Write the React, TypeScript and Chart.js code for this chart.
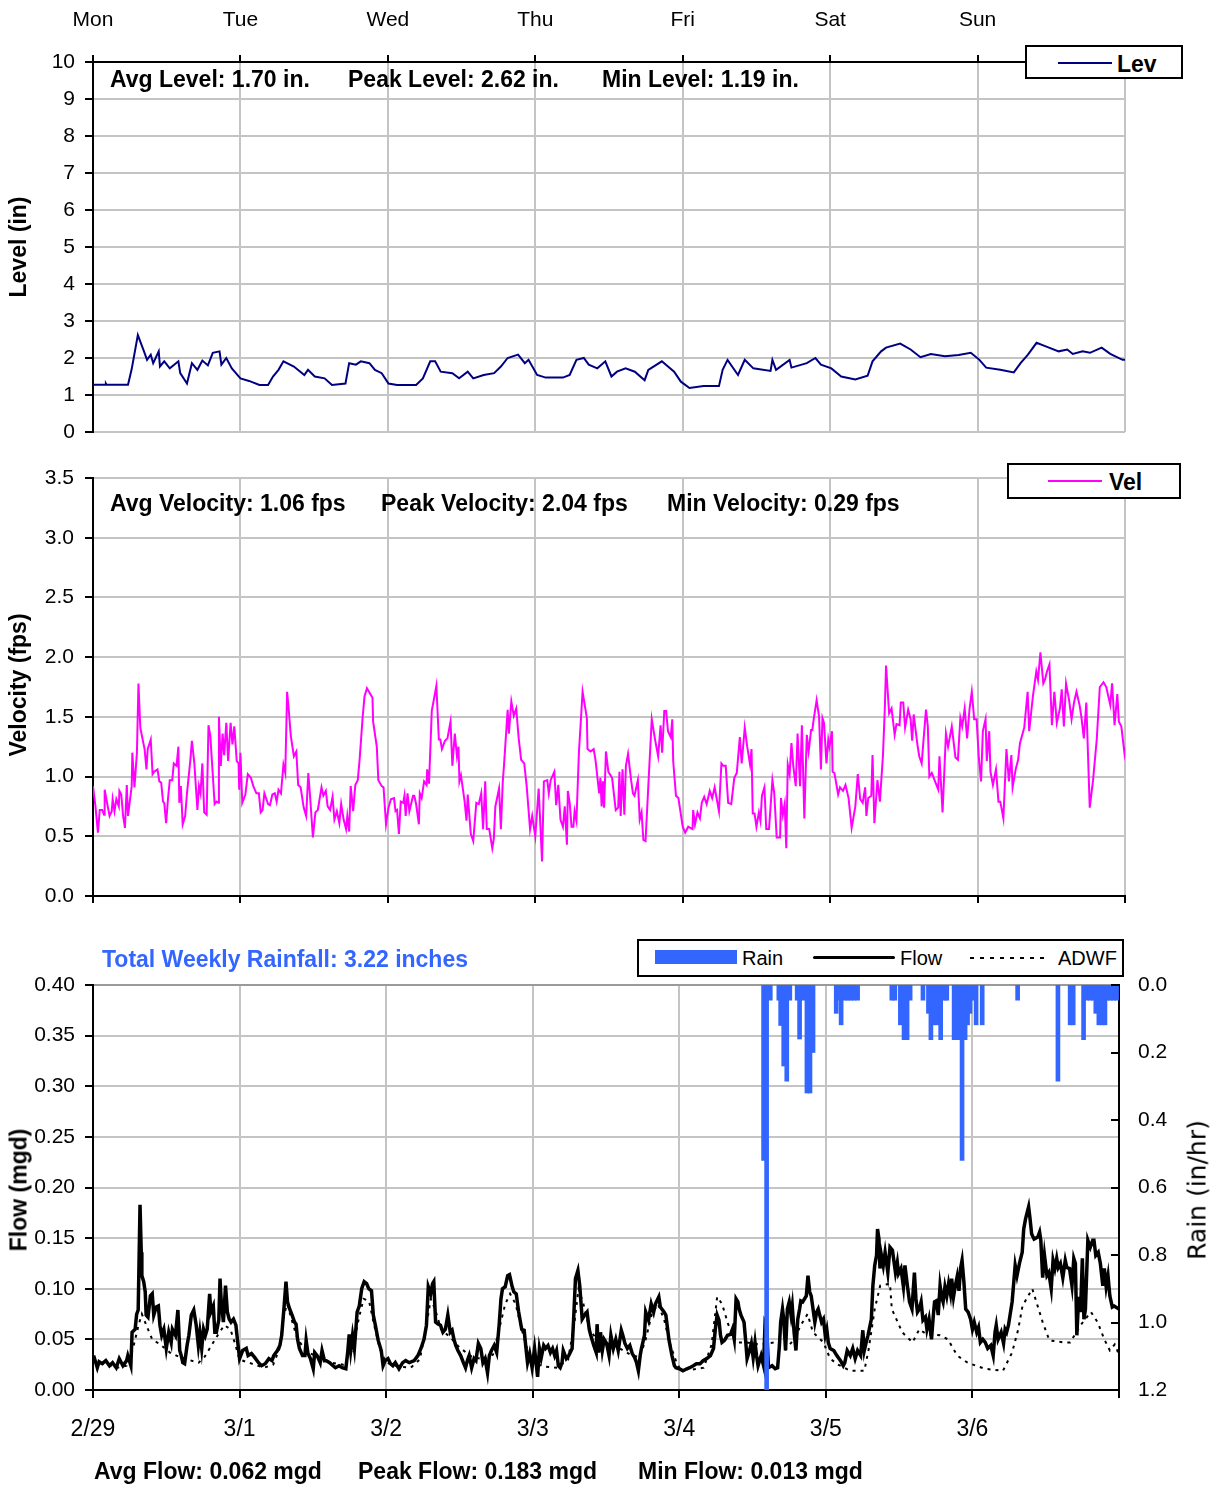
import React, { useEffect, useRef } from 'react';
import { Chart, registerables } from 'chart.js';

Chart.register(...registerables);

// ---------- labels ----------
const DAY_NAMES = ['Mon', 'Tue', 'Wed', 'Thu', 'Fri', 'Sat', 'Sun'];
const DATE_LABELS = ['2/29', '3/1', '3/2', '3/3', '3/4', '3/5', '3/6'];
const DAY_TICK_HOURS = [0, 24, 48, 72, 96, 120, 144, 168];
const LEVEL_TICKS = [0, 1, 2, 3, 4, 5, 6, 7, 8, 9, 10];
const VEL_TICKS = [0, 0.5, 1, 1.5, 2, 2.5, 3, 3.5];
const FLOW_TICKS = [0, 0.05, 0.1, 0.15, 0.2, 0.25, 0.3, 0.35, 0.4];
const RAIN_TICKS = [0, 0.2, 0.4, 0.6, 0.8, 1.0, 1.2];

// ---------- data: [hour of week, value] ----------
const levelPoints: [number, number][] = [
  [0,1.28],[2,1.28],[2.1,1.31],[2.2,1.28],[5.7,1.28],[6.3,1.7],[7.3,2.62],[8.3,2.18],[8.8,1.95],[9.4,2.09],[9.8,1.86],[10.7,2.18],[10.9,1.77],[11.6,1.91],[12.5,1.72],[13.9,1.91],[14.2,1.59],[15.3,1.31],[16.1,1.86],[17.0,1.68],[17.8,1.93],[18.7,1.8],[19.5,2.14],[20.6,2.18],[20.9,1.82],[21.7,2.0],[22.6,1.72],
  [24.0,1.45],[25.4,1.38],[27.1,1.27],[28.5,1.27],[29.3,1.5],[30.2,1.68],[31.0,1.91],[32.7,1.77],[34.4,1.54],[35.0,1.68],[36.1,1.5],[37.7,1.45],[38.9,1.27],[41.1,1.31],[41.7,1.86],[42.8,1.82],[43.6,1.91],[45.0,1.86],[45.9,1.68],[47.0,1.59],
  [48.1,1.31],[49.5,1.27],[52.6,1.27],[53.7,1.45],[54.9,1.91],[55.7,1.91],[56.6,1.63],[58.5,1.59],[59.6,1.45],[61.0,1.63],[61.9,1.45],[63.6,1.54],[65.3,1.59],[66.4,1.77],[67.5,2.0],[69.2,2.09],[70.3,1.86],[70.9,1.95],
  [72.3,1.54],[73.7,1.47],[76.5,1.47],[77.6,1.54],[78.7,1.95],[79.9,2.0],[80.7,1.82],[82.1,1.72],[83.4,1.91],[84.4,1.5],[85.3,1.63],[86.7,1.72],[88.2,1.63],[89.8,1.4],[90.4,1.68],[92.6,1.91],[94.6,1.63],[95.7,1.36],
  [97.1,1.19],[99.4,1.24],[101.9,1.24],[102.5,1.68],[103.3,1.95],[105.0,1.54],[106.1,1.95],[107.5,1.72],[110.3,1.65],[110.6,1.95],[111.2,1.68],[113.4,1.95],[113.7,1.74],[116.2,1.86],[117.6,2.0],[118.5,1.82],
  [120.2,1.72],[121.8,1.5],[124.1,1.42],[126.1,1.52],[126.9,1.91],[128.3,2.18],[129.1,2.28],[131.4,2.39],[133.1,2.23],[134.7,2.02],[136.4,2.11],[138.7,2.05],[140.9,2.08],[142.9,2.14],
  [144.3,1.95],[145.4,1.74],[147.7,1.68],[149.9,1.61],[151.0,1.86],[152.2,2.09],[153.6,2.41],[155.0,2.32],[157.2,2.18],[158.6,2.23],[159.5,2.11],[161.1,2.18],[162.3,2.14],[164.2,2.28],[165.6,2.11],[167.6,1.95],[168,1.95],
];

const velocityPoints: [number, number][] = [
  [0,0.92],[0.4,0.75],[0.8,0.53],[1.1,0.72],[1.5,0.72],[1.8,0.68],[1.9,0.89],[2.4,0.75],[2.7,0.67],[3.05,0.71],[3.2,0.81],[3.5,0.71],[3.8,0.81],[4.2,0.75],[4.3,0.88],[4.6,0.85],[4.9,0.67],[5.2,0.57],[5.5,0.93],[5.7,0.67],
  [6.3,0.92],[6.4,1.2],[6.75,0.91],[7.15,1.2],[7.4,1.78],[7.7,1.41],[8.2,1.28],[8.4,1.23],[8.7,1.06],[8.9,1.23],[9.4,1.31],[9.7,1.02],[9.95,1.04],[10.5,1.06],[10.8,0.96],[11.1,0.95],[11.4,0.79],[11.6,0.78],[11.9,0.61],
  [12.2,0.81],[12.5,0.97],[12.9,0.97],[13.15,1.11],[13.6,1.09],[13.9,1.25],[14.05,0.78],[14.3,0.92],[14.6,0.6],[15.0,0.67],[15.3,0.86],[15.85,1.14],[16.1,1.3],[16.5,1.11],[17.0,0.72],[17.25,0.92],[17.5,0.86],[17.8,1.11],
  [18.1,0.7],[18.5,0.68],[18.8,1.43],[19.1,1.34],[19.8,0.77],[20.1,0.79],[20.45,0.78],[20.5,1.5],[20.8,1.09],[21.1,1.36],[21.35,1.18],[21.7,1.45],[22.0,1.13],[22.4,1.45],[22.7,1.27],[23.0,1.42],[23.4,1.13],[23.7,1.11],[23.8,0.89],[24.0,1.2],
  [24.3,0.78],[24.8,0.85],[25.2,1.02],[25.7,0.99],[26.1,0.92],[26.6,0.86],[27.0,0.86],[27.3,0.7],[27.6,0.72],[27.9,0.86],[28.5,0.77],[28.8,0.76],[29.2,0.85],[29.6,0.86],[29.9,0.79],[30.2,0.89],[30.6,0.86],[31.0,1.1],[31.3,1.03],
  [31.6,1.71],[31.85,1.57],[32.2,1.34],[32.7,1.17],[33.1,1.21],[33.4,0.93],[33.8,0.91],[34.3,0.74],[34.7,0.67],[35.05,1.03],[35.3,0.86],[35.8,0.49],[36.2,0.7],[36.6,0.72],[37.2,0.91],[37.5,0.84],[37.9,0.88],[38.2,0.75],[38.6,0.72],
  [39.0,0.83],[39.3,0.64],[39.7,0.71],[40.1,0.61],[40.4,0.77],[40.8,0.64],[41.2,0.56],[41.4,0.67],[41.7,0.54],[41.95,0.92],[42.35,0.71],[42.7,0.93],[43.1,0.97],[43.4,1.14],[43.9,1.5],[44.2,1.67],[44.6,1.74],[45.5,1.66],[45.6,1.46],
  [46.2,1.25],[46.45,0.97],[47.0,0.92],[47.3,0.91],[47.7,0.6],[48.1,0.74],[48.5,0.81],[49.0,0.82],[49.25,0.71],[49.5,0.72],[49.8,0.52],[50.1,0.79],[50.5,0.78],[50.7,0.84],[50.9,0.67],[51.2,0.86],[51.5,0.71],[52.1,0.84],[52.3,0.84],
  [52.6,0.77],[53.05,0.6],[53.2,0.86],[53.5,0.82],[53.9,0.96],[54.3,0.93],[54.4,1.06],[54.7,0.94],[55.15,1.55],[55.4,1.62],[55.9,1.76],[56.3,1.31],[56.55,1.31],[56.8,1.23],[57.3,1.3],[57.7,1.32],[58.2,1.46],[58.5,1.09],[58.9,1.36],
  [59.25,1.17],[59.5,1.25],[59.65,0.96],[59.9,1.01],[60.5,0.79],[60.8,0.63],[61.0,0.85],[61.5,0.52],[61.9,0.46],[62.4,0.78],[62.8,0.77],[63.2,0.86],[63.5,0.56],[63.85,0.96],[64.1,0.56],[64.5,0.56],[65.0,0.4],[65.25,0.48],[65.5,0.75],
  [66.1,0.9],[66.4,0.56],[66.7,0.95],[66.9,1.09],[67.5,1.56],[67.7,1.36],[68.1,1.63],[68.5,1.51],[68.9,1.57],[69.3,1.32],[69.7,1.14],[70.2,1.11],[70.6,0.92],[71.15,0.56],[71.5,0.67],[72.0,0.5],[72.55,0.9],[73.1,0.29],[73.4,0.96],
  [73.95,0.97],[74.2,0.86],[74.5,0.97],[75.1,1.04],[75.4,0.76],[75.75,0.93],[76.1,0.64],[76.5,0.58],[76.8,0.75],[77.15,0.43],[77.3,0.88],[77.6,0.78],[77.9,0.58],[78.2,0.58],[78.4,0.71],[78.7,0.63],[79.1,1.2],[79.7,1.71],[80.4,1.49],
  [80.5,1.23],[81.0,1.21],[81.5,1.23],[81.8,1.14],[82.4,0.86],[82.6,0.99],[82.8,0.75],[83.0,0.96],[83.2,0.74],[83.5,1.21],[83.9,1.04],[84.5,0.99],[85.1,0.72],[85.5,0.74],[85.7,1.04],[85.9,0.67],[86.2,1.06],[86.5,0.68],[86.75,1.09],
  [87.1,1.19],[87.6,0.97],[87.9,0.86],[88.15,0.84],[88.7,0.97],[89.0,0.64],[89.3,0.7],[89.6,0.47],[89.95,0.46],[90.4,0.92],[90.96,1.48],[91.5,1.31],[92.0,1.17],[92.4,1.43],[92.65,1.2],[93.0,1.55],[93.3,1.55],[93.6,1.38],[94.05,1.33],
  [94.3,1.48],[94.45,1.13],[94.9,0.84],[95.3,0.82],[96.0,0.58],[96.4,0.53],[96.9,0.58],[97.6,0.56],[97.7,0.72],[98.0,0.6],[98.4,0.7],[98.8,0.65],[99.1,0.78],[99.5,0.83],[99.9,0.77],[100.4,0.88],[100.8,0.82],[101.2,0.91],[101.9,0.71],
  [102.3,1.11],[102.6,1.09],[103.0,1.09],[103.4,0.78],[103.9,0.77],[104.4,0.99],[104.8,1.03],[105.3,1.33],[105.6,1.11],[106.1,1.41],[106.5,1.25],[106.96,1.1],[107.2,1.23],[107.4,0.69],[107.7,0.69],[108.0,0.58],[108.4,0.7],[108.65,0.63],
  [108.9,0.84],[109.3,0.91],[109.6,0.56],[110.05,0.56],[110.6,0.97],[110.9,0.86],[111.3,0.49],[111.85,0.49],[112.0,0.82],[112.3,0.68],[112.6,0.77],[112.86,0.4],[113.1,1.1],[113.4,1.02],[113.7,1.28],[114.0,1.09],[114.4,0.92],[114.7,1.36],
  [115.1,0.92],[115.4,1.43],[115.8,0.65],[116.2,1.35],[116.5,1.21],[116.9,1.39],[117.1,1.39],[117.35,1.49],[117.8,1.64],[118.2,1.5],[118.5,1.06],[118.75,1.49],[119.0,1.45],[119.4,1.11],[119.7,1.31],[119.9,1.25],[120.3,1.38],[120.4,1.04],
  [120.7,1.03],[121.3,0.85],[121.6,0.91],[122.1,0.88],[122.5,0.93],[123.0,0.82],[123.5,0.57],[124.1,0.75],[124.5,1.02],[124.9,0.81],[125.3,0.78],[125.7,0.91],[125.9,0.67],[126.2,0.82],[126.7,0.84],[126.9,1.18],[127.2,0.61],[127.7,0.97],
  [128.1,0.79],[128.6,1.18],[128.9,1.57],[129.1,1.93],[129.6,1.53],[130.0,1.57],[130.5,1.35],[130.8,1.44],[131.3,1.43],[131.5,1.62],[131.9,1.62],[132.2,1.41],[132.7,1.56],[133.1,1.48],[133.35,1.3],[133.6,1.52],[134.2,1.27],[134.5,1.17],
  [134.9,1.11],[135.6,1.56],[135.9,1.42],[136.15,1.0],[136.55,1.03],[137.0,0.97],[137.6,0.89],[137.8,1.17],[138.3,0.7],[138.85,1.36],[139.2,1.25],[139.8,1.42],[140.4,1.16],[140.8,1.14],[141.2,1.49],[141.5,1.42],[141.9,1.57],[142.3,1.32],
  [142.7,1.57],[143.06,1.71],[143.45,1.48],[143.84,1.48],[144.2,1.16],[144.57,0.96],[144.86,1.38],[145.3,1.48],[145.5,1.13],[145.9,1.38],[146.1,1.04],[146.5,0.93],[147.0,1.06],[147.4,0.79],[147.7,0.79],[148.2,0.65],[148.7,1.23],[149.1,0.96],
  [149.5,1.18],[149.7,0.91],[150.2,1.06],[150.6,1.14],[150.9,1.28],[151.6,1.41],[152.15,1.71],[152.4,1.38],[153.0,1.67],[153.56,1.88],[153.84,1.81],[154.23,2.04],[154.7,1.78],[154.96,1.81],[155.3,1.88],[155.7,1.94],[156.1,1.43],[156.5,1.71],
  [156.9,1.45],[157.4,1.57],[157.7,1.73],[158.05,1.42],[158.4,1.78],[158.9,1.64],[159.3,1.48],[159.7,1.62],[160.1,1.71],[160.6,1.6],[160.9,1.5],[161.3,1.32],[161.7,1.62],[162.26,0.74],[162.8,0.97],[163.4,1.31],[163.9,1.75],[164.5,1.79],
  [164.95,1.75],[165.6,1.6],[165.9,1.78],[166.3,1.43],[166.75,1.69],[167.0,1.46],[167.4,1.42],[167.9,1.2],[168,1.25],
];

const flowPoints: [number, number][] = [
  [0.1,0.034],[0.7,0.022],[1.0,0.028],[1.5,0.026],[2.1,0.029],[2.7,0.024],[3.2,0.027],[3.8,0.022],[4.3,0.031],[4.9,0.024],[5.5,0.029],[5.7,0.034],[6.2,0.024],[6.4,0.057],[6.9,0.06],[7.15,0.075],[7.4,0.079],[7.7,0.183],[7.9,0.136],
  [8.0,0.113],[8.3,0.107],[8.55,0.097],[8.7,0.074],[9.0,0.072],[9.4,0.093],[9.7,0.095],[9.95,0.074],[10.35,0.082],[10.7,0.083],[10.96,0.064],[11.25,0.054],[11.6,0.06],[12.0,0.041],[12.4,0.057],[12.8,0.047],[13.0,0.06],[13.5,0.054],
  [13.9,0.079],[14.2,0.039],[14.45,0.034],[14.7,0.027],[15.0,0.026],[15.4,0.044],[15.7,0.054],[16.1,0.074],[16.5,0.079],[16.9,0.064],[17.25,0.044],[17.5,0.057],[17.8,0.041],[18.1,0.06],[18.4,0.054],[18.7,0.06],[19.1,0.095],[19.3,0.077],
  [19.7,0.083],[19.95,0.057],[20.2,0.057],[20.6,0.069],[20.8,0.11],[21.0,0.087],[21.35,0.067],[21.7,0.103],[22.0,0.077],[22.3,0.07],[22.6,0.067],[23.0,0.07],[23.4,0.064],[23.7,0.047],[24.0,0.031],[24.5,0.039],[25.1,0.041],[25.4,0.034],
  [25.95,0.036],[26.5,0.032],[27.1,0.027],[27.6,0.024],[28.2,0.026],[28.8,0.031],[29.3,0.029],[29.6,0.034],[30.2,0.039],[30.6,0.044],[30.9,0.054],[31.3,0.083],[31.6,0.107],[31.85,0.087],[32.2,0.08],[32.6,0.074],[33.0,0.067],[33.25,0.065],
  [33.5,0.05],[33.8,0.041],[34.3,0.034],[34.7,0.034],[34.9,0.049],[35.2,0.036],[35.6,0.031],[36.06,0.021],[36.3,0.037],[36.7,0.034],[37.2,0.027],[37.5,0.039],[37.9,0.029],[38.2,0.029],[38.75,0.027],[39.3,0.024],[39.7,0.022],[40.3,0.024],
  [40.8,0.022],[41.4,0.021],[41.7,0.037],[41.95,0.055],[42.2,0.039],[42.5,0.054],[42.8,0.041],[43.25,0.077],[43.6,0.083],[44.0,0.1],[44.4,0.107],[44.8,0.105],[45.15,0.1],[45.6,0.098],[45.9,0.074],[46.3,0.062],[46.7,0.049],[47.2,0.039],
  [47.5,0.024],[47.85,0.029],[48.3,0.031],[48.7,0.026],[49.1,0.024],[49.5,0.027],[50.1,0.021],[50.7,0.027],[51.2,0.029],[51.8,0.027],[52.6,0.029],[53.2,0.034],[53.7,0.041],[54.2,0.05],[54.6,0.064],[54.9,0.102],[55.3,0.095],[55.6,0.105],
  [55.8,0.107],[56.1,0.067],[56.55,0.065],[56.9,0.064],[57.3,0.057],[57.7,0.06],[58.1,0.074],[58.5,0.057],[58.8,0.059],[59.1,0.05],[59.4,0.044],[59.75,0.039],[60.2,0.034],[60.65,0.027],[61.0,0.022],[61.3,0.029],[61.6,0.034],[62.0,0.022],
  [62.4,0.031],[62.7,0.029],[63.1,0.046],[63.5,0.041],[63.85,0.027],[64.2,0.031],[64.6,0.017],[64.9,0.034],[65.25,0.039],[65.7,0.044],[66.1,0.037],[66.5,0.064],[66.8,0.09],[67.05,0.1],[67.5,0.102],[67.9,0.113],[68.2,0.114],[68.6,0.103],
  [68.9,0.097],[69.3,0.095],[69.7,0.077],[70.2,0.06],[70.6,0.059],[70.9,0.041],[71.15,0.027],[71.5,0.036],[71.9,0.022],[72.3,0.041],[72.55,0.027],[72.8,0.013],[73.1,0.041],[73.4,0.032],[73.8,0.044],[74.1,0.041],[74.5,0.044],[74.9,0.037],
  [75.25,0.041],[75.6,0.034],[75.9,0.039],[76.2,0.024],[76.5,0.022],[76.8,0.027],[77.0,0.039],[77.5,0.031],[77.9,0.034],[78.45,0.041],[78.7,0.07],[79.0,0.11],[79.4,0.118],[79.7,0.103],[80.1,0.07],[80.5,0.074],[80.9,0.077],[81.25,0.06],
  [81.5,0.054],[82.0,0.044],[82.4,0.037],[82.54,0.065],[82.8,0.037],[83.1,0.057],[83.4,0.039],[83.7,0.05],[84.1,0.046],[84.5,0.034],[84.8,0.054],[85.2,0.041],[85.6,0.05],[86.0,0.039],[86.5,0.059],[86.75,0.054],[87.1,0.046],[87.5,0.041],
  [87.9,0.044],[88.3,0.036],[88.7,0.032],[89.0,0.027],[89.3,0.019],[89.6,0.034],[89.8,0.041],[90.3,0.054],[90.5,0.077],[90.96,0.069],[91.4,0.085],[91.8,0.077],[92.1,0.085],[92.65,0.092],[92.9,0.082],[93.5,0.077],[93.8,0.074],[94.3,0.05],
  [94.8,0.034],[95.2,0.024],[95.45,0.022],[96.0,0.021],[96.6,0.019],[97.25,0.021],[97.7,0.022],[98.3,0.024],[98.8,0.026],[99.4,0.026],[99.9,0.029],[100.5,0.031],[101.1,0.034],[101.6,0.041],[101.9,0.06],[102.2,0.074],[102.5,0.069],
  [102.75,0.054],[103.0,0.047],[103.4,0.049],[103.9,0.054],[104.4,0.055],[104.7,0.06],[105.0,0.05],[105.3,0.09],[105.6,0.087],[105.8,0.08],[106.1,0.074],[106.6,0.067],[106.85,0.05],[107.1,0.031],[107.5,0.039],[107.8,0.046],[108.1,0.032],
  [108.4,0.047],[108.65,0.034],[108.9,0.024],[109.4,0.034],[109.8,0.024],[110.05,0.067],[110.3,0.064],[110.6,0.022],[111.2,0.024],[111.7,0.021],[112.1,0.022],[112.4,0.044],[112.6,0.067],[112.9,0.08],[113.1,0.07],[113.4,0.039],[113.7,0.08],
  [114.0,0.087],[114.3,0.074],[114.5,0.083],[114.8,0.057],[115.1,0.039],[115.4,0.07],[115.7,0.08],[115.9,0.088],[116.2,0.087],[116.8,0.093],[117.07,0.113],[117.35,0.097],[117.6,0.093],[117.9,0.08],[118.2,0.067],[118.5,0.077],[118.75,0.08],
  [119.0,0.074],[119.3,0.067],[119.6,0.07],[119.9,0.054],[120.15,0.06],[120.4,0.047],[120.7,0.041],[121.3,0.039],[121.8,0.034],[122.4,0.029],[122.85,0.024],[123.1,0.027],[123.5,0.039],[124.0,0.034],[124.4,0.041],[124.8,0.031],[125.2,0.039],
  [125.7,0.034],[126.05,0.059],[126.3,0.039],[126.6,0.047],[126.9,0.054],[127.45,0.07],[127.7,0.103],[128.0,0.123],[128.3,0.133],[128.46,0.159],[128.7,0.149],[128.86,0.12],[129.1,0.133],[129.4,0.123],[129.7,0.136],[130.15,0.116],[130.5,0.141],
  [130.9,0.138],[131.4,0.116],[131.7,0.126],[131.9,0.115],[132.3,0.12],[132.7,0.102],[132.95,0.123],[133.35,0.103],[133.7,0.087],[134.1,0.08],[134.5,0.116],[134.75,0.09],[135.0,0.077],[135.3,0.08],[135.6,0.087],[135.9,0.069],[136.3,0.072],
  [136.55,0.06],[136.9,0.07],[137.3,0.05],[137.6,0.074],[137.8,0.087],[138.1,0.088],[138.4,0.074],[138.7,0.103],[138.96,0.092],[139.2,0.087],[139.5,0.102],[139.8,0.093],[140.1,0.105],[140.4,0.095],[140.6,0.11],[140.9,0.092],[141.2,0.103],
  [141.5,0.112],[141.8,0.098],[142.05,0.12],[142.3,0.128],[142.6,0.107],[142.9,0.08],[143.3,0.077],[143.7,0.07],[144.0,0.06],[144.3,0.067],[144.7,0.057],[145.0,0.062],[145.3,0.047],[145.7,0.05],[146.1,0.047],[146.5,0.041],[147.0,0.044],
  [147.4,0.034],[147.7,0.057],[147.9,0.064],[148.2,0.05],[148.7,0.057],[149.1,0.046],[149.35,0.06],[149.6,0.057],[149.9,0.064],[150.5,0.087],[151.0,0.123],[151.3,0.113],[151.7,0.125],[152.15,0.136],[152.4,0.159],[152.7,0.169],[153.2,0.181],
  [153.4,0.171],[153.7,0.154],[154.1,0.149],[154.7,0.151],[155.0,0.156],[155.2,0.148],[155.5,0.111],[155.8,0.133],[156.2,0.113],[156.5,0.116],[156.9,0.1],[157.2,0.128],[157.5,0.12],[157.8,0.13],[158.05,0.121],[158.4,0.125],[158.8,0.111],
  [159.2,0.128],[159.45,0.121],[159.9,0.12],[160.3,0.103],[160.6,0.13],[160.86,0.125],[161.1,0.054],[161.4,0.092],[161.7,0.077],[162.0,0.13],[162.26,0.07],[162.5,0.08],[162.9,0.148],[163.3,0.141],[163.7,0.148],[163.9,0.148],[164.2,0.133],
  [164.6,0.136],[164.95,0.125],[165.35,0.103],[165.6,0.12],[165.9,0.102],[166.2,0.113],[166.5,0.093],[166.9,0.082],[167.2,0.083],[168,0.08],
];

const adwfPoints: [number, number][] = [
  [0,0.028],[2,0.025],[4,0.022],[5.5,0.024],[6.5,0.04],[7.5,0.065],[8,0.075],[9,0.06],[9.7,0.05],[11,0.045],[12.6,0.037],[14,0.033],[15.5,0.03],[17.3,0.027],[18.3,0.033],[19.5,0.045],[20.5,0.055],[21.5,0.064],[22.5,0.06],[23.3,0.045],
  [24,0.03],[26,0.026],[28,0.022],[29.5,0.025],[30.5,0.04],[31.3,0.075],[31.8,0.085],[32.5,0.07],[33.5,0.05],[35,0.038],[37,0.032],[39,0.027],[41,0.025],[42.5,0.04],[43.5,0.07],[44.3,0.09],[45.2,0.088],[46,0.065],[47,0.04],
  [48,0.027],[50,0.023],[52,0.022],[53.5,0.03],[54.5,0.06],[55.3,0.09],[56,0.08],[57,0.06],[58.5,0.052],[60,0.042],[62,0.033],[64,0.03],[65.5,0.035],[66.5,0.06],[67.5,0.085],[68.3,0.095],[69.2,0.085],[70.2,0.06],[71.2,0.038],
  [72,0.027],[74,0.023],[76,0.022],[77.8,0.03],[78.8,0.065],[79.5,0.1],[80.3,0.085],[81.3,0.06],[82.5,0.05],[84,0.045],[86,0.042],[88,0.035],[89.5,0.032],[90.5,0.05],[91.5,0.075],[92.5,0.085],[93.5,0.07],[94.5,0.045],[95.5,0.028],
  [96,0.022],[98,0.02],[100,0.022],[101.3,0.045],[102.2,0.092],[103,0.085],[104,0.065],[105.3,0.047],[107,0.047],[109,0.045],[111.7,0.047],[113.4,0.04],[114.8,0.05],[115.9,0.064],[117,0.075],[117.9,0.057],[119.6,0.047],
  [120.7,0.031],[122,0.025],[124,0.019],[126.3,0.019],[127,0.04],[128,0.08],[128.9,0.103],[130.5,0.105],[130.8,0.08],[132.5,0.057],[134.2,0.047],[135.3,0.06],[136.5,0.055],[138.7,0.054],[140,0.05],[141.5,0.034],[143.2,0.027],
  [146,0.021],[149,0.019],[150.5,0.037],[151.5,0.06],[152.2,0.083],[153.8,0.1],[155.5,0.067],[156.6,0.049],[158.9,0.047],[160,0.047],[161.7,0.064],[163.4,0.077],[164.5,0.067],[165.6,0.05],[166.5,0.039],[167.3,0.045],[168,0.035],
];

const rainPoints: [number, number][] = [
  [109.8,0.52],[110.3,1.2],[110.9,0.045],[112.3,0.045],[112.6,0.12],[113.1,0.24],[113.6,0.285],[114.1,0.045],[115.3,0.045],[115.7,0.16],[116.2,0.045],[116.9,0.32],[117.4,0.32],[117.9,0.2],
  [121.7,0.084],[122.2,0.045],[122.5,0.118],[123.1,0.045],[123.6,0.045],[124.1,0.045],[124.6,0.045],[125.2,0.045],
  [130.8,0.045],[131.3,0.045],[132.2,0.118],[132.8,0.162],[133.3,0.162],[133.8,0.045],[135.9,0.045],[136.8,0.084],[137.2,0.162],[137.7,0.118],[138.2,0.118],[138.8,0.162],[139.4,0.045],[139.8,0.045],
  [141.0,0.162],[141.6,0.162],[142.3,0.52],[142.8,0.162],[143.2,0.118],[143.6,0.084],[144.2,0.045],[144.6,0.118],[145.6,0.118],[151.4,0.045],[158.0,0.285],[160.0,0.118],[160.5,0.118],
  [162.2,0.162],[162.7,0.045],[163.3,0.045],[163.8,0.045],[164.2,0.084],[164.7,0.118],[165.2,0.118],[165.7,0.118],[166.1,0.045],[166.6,0.045],[167.1,0.045],[167.6,0.045],
];

// ---------- styles ----------
const GRID = '#c4c4c4';
const BLUE = '#3366ff';
const SANS = "'Liberation Sans', Arial, Helvetica, sans-serif";
const TICK_FONT = { family: SANS, size: 21 };

const toXY = (pts: [number, number][]) => pts.map(([x, y]) => ({ x, y }));

type Mark = { scale: string; side: 'left' | 'rightIn' | 'top' | 'bottom'; len: number; values: number[] };
function tickMarkPlugin(marks: Mark[]) {
  return {
    id: 'tickMarks',
    afterDraw(chart: any) {
      const { ctx, chartArea: a } = chart;
      ctx.save();
      ctx.strokeStyle = '#000';
      ctx.lineWidth = 2;
      for (const m of marks) {
        const s = chart.scales[m.scale];
        for (const v of m.values) {
          const p = Math.round(s.getPixelForValue(v));
          ctx.beginPath();
          if (m.side === 'left') { ctx.moveTo(a.left - m.len, p); ctx.lineTo(a.left, p); }
          if (m.side === 'rightIn') { ctx.moveTo(a.right - m.len, p); ctx.lineTo(a.right, p); }
          if (m.side === 'top') { ctx.moveTo(p, a.top - m.len); ctx.lineTo(p, a.top); }
          if (m.side === 'bottom') { ctx.moveTo(p, a.bottom); ctx.lineTo(p, a.bottom + m.len); }
          ctx.stroke();
        }
      }
      ctx.restore();
    },
  };
}

const gridColor = (hidden: number[], special?: { value: number; color: string }) => (ctx: any) => {
  const v = ctx.tick ? ctx.tick.value : null;
  if (v !== null && hidden.some((h) => Math.abs(h - v) < 1e-9)) return 'rgba(0,0,0,0)';
  if (special && v !== null && Math.abs(special.value - v) < 1e-9) return special.color;
  return GRID;
};

// fixed-width vertical axis that does not push the plot area with label overhang
const fixVertical = (w: number) => (s: any) => { s.width = w; s.paddingTop = 0; s.paddingBottom = 0; };

const baseOpts = {
  responsive: false,
  maintainAspectRatio: false,
  animation: false as const,
  devicePixelRatio: 1,
  events: [] as any[],
};

function levelConfig(): any {
  return {
    type: 'line',
    data: {
      datasets: [{ label: 'Lev', data: toXY(levelPoints), borderColor: '#000080', borderWidth: 2, pointRadius: 0, tension: 0 }],
    },
    options: {
      ...baseOpts,
      layout: { padding: { left: 0, top: 0, right: 88, bottom: 13 } },
      plugins: { legend: { display: false }, tooltip: { enabled: false } },
      scales: {
        x: {
          type: 'linear', position: 'top', min: 0, max: 168,
          ticks: { stepSize: 24, autoSkip: false, maxRotation: 0, font: TICK_FONT, color: '#000', padding: 29,
            callback: (v: number) => DAY_NAMES[Math.round(v / 24)] ?? '' },
          grid: { color: gridColor([0]), lineWidth: 2, drawTicks: false },
          border: { color: '#000', width: 2 },
          afterFit: (s: any) => { s.height = 62; },
        },
        y: {
          min: 0, max: 10,
          ticks: { stepSize: 1, font: TICK_FONT, color: '#000', padding: 18 },
          grid: { color: gridColor([10]), lineWidth: 2, drawTicks: false },
          border: { color: '#000', width: 2 },
          afterFit: fixVertical(93),
        },
      },
    },
    plugins: [tickMarkPlugin([
      { scale: 'y', side: 'left', len: 8, values: LEVEL_TICKS },
      { scale: 'x', side: 'top', len: 7, values: DAY_TICK_HOURS },
    ])],
  };
}

function velocityConfig(): any {
  return {
    type: 'line',
    data: {
      datasets: [{ label: 'Vel', data: toXY(velocityPoints), borderColor: '#ff00ff', borderWidth: 2, pointRadius: 0, tension: 0 }],
    },
    options: {
      ...baseOpts,
      layout: { padding: { left: 0, top: 33, right: 88, bottom: 14 } },
      plugins: { legend: { display: false }, tooltip: { enabled: false } },
      scales: {
        x: {
          type: 'linear', position: 'bottom', min: 0, max: 168,
          ticks: { stepSize: 24, display: false },
          grid: { color: gridColor([0]), lineWidth: 2, drawTicks: false },
          border: { color: '#000', width: 2 },
          afterFit: (s: any) => { s.height = 0; },
        },
        y: {
          min: 0, max: 3.5,
          ticks: { stepSize: 0.5, font: TICK_FONT, color: '#000', padding: 19, callback: (v: number) => Number(v).toFixed(1) },
          grid: { color: gridColor([0]), lineWidth: 2, drawTicks: false },
          border: { color: '#000', width: 2 },
          afterFit: fixVertical(93),
        },
      },
    },
    plugins: [tickMarkPlugin([
      { scale: 'y', side: 'left', len: 8, values: VEL_TICKS },
      { scale: 'x', side: 'bottom', len: 7, values: DAY_TICK_HOURS },
    ])],
  };
}

function flowConfig(): any {
  return {
    type: 'line',
    data: {
      datasets: [
        { type: 'bar', label: 'Rain', data: toXY(rainPoints), yAxisID: 'y1', backgroundColor: BLUE, borderWidth: 0, barThickness: 4, order: 0 },
        { type: 'line', label: 'Flow', data: toXY(flowPoints), yAxisID: 'y', borderColor: '#000', borderWidth: 3.5, pointRadius: 0, tension: 0, order: 1 },
        { type: 'line', label: 'ADWF', data: toXY(adwfPoints), yAxisID: 'y', borderColor: '#000', borderWidth: 2, borderDash: [3, 5], pointRadius: 0, tension: 0, order: 2 },
      ],
    },
    options: {
      ...baseOpts,
      layout: { padding: { left: 0, top: 75, right: 0, bottom: 0 } },
      plugins: { legend: { display: false }, tooltip: { enabled: false } },
      scales: {
        x: {
          type: 'linear', position: 'bottom', min: 0, max: 168, offset: false,
          ticks: { stepSize: 24, autoSkip: false, maxRotation: 0, font: { family: SANS, size: 23 }, color: '#000', padding: 26,
            callback: (v: number) => DATE_LABELS[Math.round(v / 24)] ?? '' },
          grid: { color: gridColor([0, 168]), lineWidth: 2, drawTicks: false, offset: false },
          border: { color: '#000', width: 2 },
          afterFit: (s: any) => { s.height = 96; },
        },
        y: {
          position: 'left', min: 0, max: 0.4,
          ticks: { stepSize: 0.05, font: TICK_FONT, color: '#000', padding: 18, callback: (v: number) => Number(v).toFixed(2) },
          grid: { color: gridColor([0], { value: 0.4, color: '#9a9a9a' }), lineWidth: 2, drawTicks: false },
          border: { color: '#000', width: 2 },
          afterFit: fixVertical(93),
        },
        y1: {
          position: 'right', min: 0, max: 1.2, reverse: true,
          ticks: { stepSize: 0.2, font: TICK_FONT, color: '#000', padding: 19, callback: (v: number) => Number(v).toFixed(1) },
          grid: { display: false, drawTicks: false },
          border: { color: '#000', width: 2 },
          afterFit: fixVertical(94),
        },
      },
    },
    plugins: [tickMarkPlugin([
      { scale: 'y', side: 'left', len: 8, values: FLOW_TICKS },
      { scale: 'y1', side: 'rightIn', len: 8, values: RAIN_TICKS },
      { scale: 'x', side: 'bottom', len: 8, values: DAY_TICK_HOURS },
    ])],
  };
}

// ---------- overlay text helpers ----------
function Txt(props: { x: number; cy: number; size?: number; bold?: boolean; color?: string; family?: string; children: React.ReactNode }) {
  const size = props.size ?? 23;
  return (
    <div style={{
      position: 'absolute', left: props.x, top: props.cy - 0.49 * size, fontSize: size, lineHeight: 1,
      fontWeight: props.bold === false ? 400 : 700, fontFamily: props.family ?? SANS, color: props.color ?? '#000', whiteSpace: 'nowrap',
    }}>{props.children}</div>
  );
}

function VTitle(props: { cx: number; cy: number; size: number; bold: boolean; family: string; children: React.ReactNode }) {
  return (
    <div style={{
      position: 'absolute', left: props.cx, top: props.cy, transform: 'translate(-50%, -50%) rotate(-90deg)',
      fontSize: props.size, lineHeight: 1, fontWeight: props.bold ? 700 : 400, fontFamily: props.family, color: '#000', whiteSpace: 'nowrap',
    }}>{props.children}</div>
  );
}

const box = (left: number, top: number, width: number, height: number): React.CSSProperties => ({
  position: 'absolute', left, top, width, height, boxSizing: 'border-box', border: '2px solid #000', background: '#fff',
});

export default function App() {
  const levelRef = useRef<HTMLCanvasElement>(null);
  const velRef = useRef<HTMLCanvasElement>(null);
  const flowRef = useRef<HTMLCanvasElement>(null);

  useEffect(() => {
    const charts = [
      new Chart(levelRef.current!, levelConfig()),
      new Chart(velRef.current!, velocityConfig()),
      new Chart(flowRef.current!, flowConfig()),
    ];
    return () => charts.forEach((c) => c.destroy());
  }, []);

  return (
    <div style={{ position: 'absolute', left: 0, top: 0, width: 1213, height: 1486, background: '#fff', overflow: 'hidden' }}>
      <canvas ref={levelRef} width={1213} height={445} style={{ position: 'absolute', left: 0, top: 0 }} />
      <canvas ref={velRef} width={1213} height={465} style={{ position: 'absolute', left: 0, top: 445 }} />
      <canvas ref={flowRef} width={1213} height={576} style={{ position: 'absolute', left: 0, top: 910 }} />

      {/* axis titles */}
      <VTitle cx={18} cy={247} size={23} bold family={SANS}>Level (in)</VTitle>
      <VTitle cx={18} cy={685} size={23} bold family={SANS}>Velocity (fps)</VTitle>
      <VTitle cx={19} cy={1190} size={23} bold family={SANS}>Flow (mgd)</VTitle>
      <VTitle cx={1197} cy={1190} size={25} bold={false} family="'DejaVu Sans', Verdana, sans-serif">Rain (in/hr)</VTitle>

      {/* level stats + legend */}
      <Txt x={110} cy={79}>Avg Level: 1.70 in.</Txt>
      <Txt x={348} cy={79}>Peak Level: 2.62 in.</Txt>
      <Txt x={602} cy={79}>Min Level: 1.19 in.</Txt>
      <div style={box(1025, 45, 158, 34)} />
      <div style={{ position: 'absolute', left: 1058, top: 62, width: 54, height: 2, background: '#000080' }} />
      <Txt x={1117} cy={64}>Lev</Txt>

      {/* velocity stats + legend */}
      <Txt x={110} cy={503}>Avg Velocity: 1.06 fps</Txt>
      <Txt x={381} cy={503}>Peak Velocity: 2.04 fps</Txt>
      <Txt x={667} cy={503}>Min Velocity: 0.29 fps</Txt>
      <div style={box(1007, 463, 174, 36)} />
      <div style={{ position: 'absolute', left: 1048, top: 480, width: 54, height: 2, background: '#ff00ff' }} />
      <Txt x={1109} cy={482}>Vel</Txt>

      {/* flow header + legend */}
      <Txt x={102} cy={959} color={BLUE}>Total Weekly Rainfall: 3.22 inches</Txt>
      <div style={box(637, 939, 487, 38)} />
      <div style={{ position: 'absolute', left: 655, top: 950, width: 82, height: 14, background: BLUE }} />
      <Txt x={742} cy={958} size={20} bold={false}>Rain</Txt>
      <div style={{ position: 'absolute', left: 813, top: 956, width: 82, height: 3, background: '#000', borderRadius: 2 }} />
      <Txt x={900} cy={958} size={20} bold={false}>Flow</Txt>
      <div style={{ position: 'absolute', left: 970, top: 957, width: 80, height: 2, background: 'repeating-linear-gradient(to right, #000 0 4px, transparent 4px 10px)' }} />
      <Txt x={1058} cy={958} size={20} bold={false}>ADWF</Txt>

      {/* flow stats */}
      <Txt x={94} cy={1471}>Avg Flow: 0.062 mgd</Txt>
      <Txt x={358} cy={1471}>Peak Flow: 0.183 mgd</Txt>
      <Txt x={638} cy={1471}>Min Flow: 0.013 mgd</Txt>
    </div>
  );
}
